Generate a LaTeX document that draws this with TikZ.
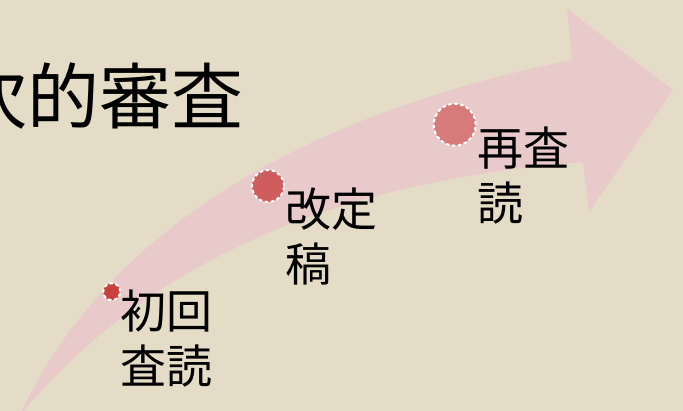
\documentclass[tikz,border=0pt]{standalone}
\usepackage{fontspec}
\newfontfamily\jp{Noto Sans CJK JP}
\definecolor{bgcol}{HTML}{E4DCC6}
\definecolor{arrowpink}{HTML}{E8CACB}
\definecolor{dotA}{HTML}{C9403F}
\definecolor{dotB}{HTML}{CF5D5D}
\definecolor{dotC}{HTML}{D67B7A}
\tikzset{
  dot/.style={circle, draw=white, line width=2pt, dash pattern=on 3.5pt off 2.5pt, inner sep=0pt},
  label/.style={font=\jp\fontsize{46}{55}\selectfont, align=left, anchor=north west, inner sep=0pt, text=black},
  titletext/.style={font=\jp\fontsize{72}{80}\selectfont, anchor=base west, inner sep=0pt, text=black}
}
\begin{document}
\begin{tikzpicture}[x=1pt,y=-1pt]
\clip (0,0) rectangle (683,411);
\fill[bgcol] (0,0) rectangle (683,411);
% big curved arrow
\fill[arrowpink] (20,415) .. controls (115,208) and (346,105) .. (572,60)
  -- (567,9) -- (673,90) -- (589,212) -- (583,162)
  .. controls (383,178) and (170,235) .. (20,415) -- cycle;
% title
\node[titletext] (title) at (-45,124) {次的審査};
% dots
\node[dot, fill=dotA, minimum size=17pt] (d1) at (111.7,291.7) {};
\node[dot, fill=dotB, minimum size=32pt] (d2) at (268,186) {};
\node[dot, fill=dotC, minimum size=42pt] (d3) at (454.7,124.7) {};
% labels
\node[label] (l1) at (120,289.5) {初回\\査読};
\node[label] (l2) at (285,187.5) {改定\\稿};
\node[label] (l3) at (477,126.5) {再査\\読};
\end{tikzpicture}
\end{document}
